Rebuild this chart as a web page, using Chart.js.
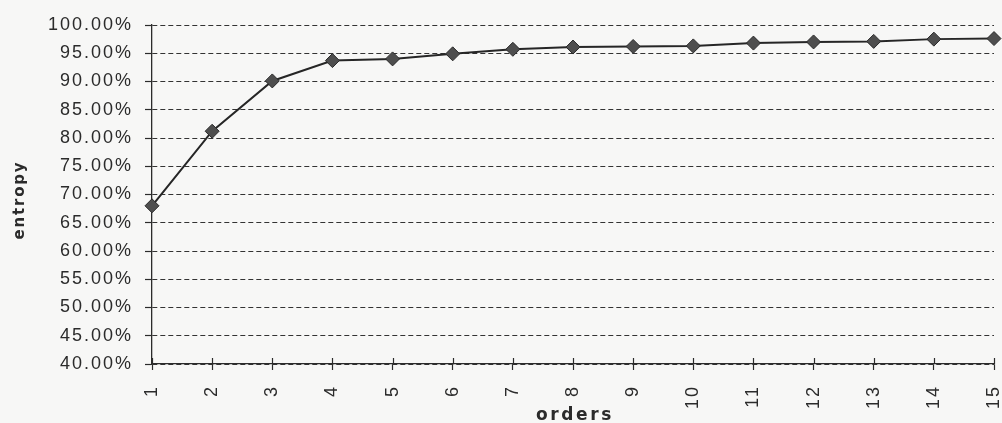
<!DOCTYPE html>
<html>
<head>
<meta charset="utf-8">
<title>Entropy by order</title>
<script src="https://cdn.jsdelivr.net/npm/chart.js@4/dist/chart.umd.min.js"></script>
<style>
  html, body { margin: 0; padding: 0; background: #f7f7f6; overflow: hidden; }
  canvas { display: block; background: #f7f7f6; }
</style>
</head>
<body>
<canvas id="chart" width="1002" height="423"></canvas>
<script>
// Orders 1..15 and the entropy reached at each order (percent)
const orders = ['1', '2', '3', '4', '5', '6', '7', '8', '9', '10', '11', '12', '13', '14', '15'];
const entropy = [68.0, 81.2, 90.1, 93.7, 94.0, 94.9, 95.7, 96.1, 96.2, 96.3, 96.8, 97.0, 97.1, 97.5, 97.6];

// Y axis range and tick step (percent)
const yMin = 40;
const yMax = 100;
const yStep = 5;

const axisTitleX = 'orders';
const axisTitleY = 'entropy';

const INK = '#2b2b2b';
const TICK_FONT = { family: '"Liberation Sans", Arial, sans-serif', size: 18 };
const TITLE_FAMILY = '"DejaVu Sans", "Liberation Sans", Arial, sans-serif';

// Extra drawing: letter-spaced tick text, tick marks that cross the x axis,
// and the two bold axis titles.
const axisDecor = {
  id: 'axisDecor',
  beforeDraw(chart) {
    chart.ctx.letterSpacing = '2px';
  },
  afterDraw(chart) {
    const ctx = chart.ctx;
    const x = chart.scales.x;
    const area = chart.chartArea;
    ctx.save();
    ctx.letterSpacing = '0px';
    ctx.strokeStyle = INK;
    ctx.lineWidth = 1.2;
    ctx.beginPath();
    for (let i = 0; i < x.ticks.length; i++) {
      const px = Math.round(x.getPixelForTick(i)) + 0.5;
      ctx.moveTo(px, area.bottom);
      ctx.lineTo(px, area.bottom - 6);
    }
    ctx.stroke();

    ctx.fillStyle = INK;
    ctx.font = 'bold 17px ' + TITLE_FAMILY;
    ctx.letterSpacing = '2.6px';
    ctx.textAlign = 'center';
    ctx.textBaseline = 'alphabetic';
    ctx.fillText(axisTitleX, (area.left + area.right) / 2 + 2, 420);

    ctx.font = 'bold 15px ' + TITLE_FAMILY;
    ctx.letterSpacing = '1.8px';
    ctx.translate(24, 201);
    ctx.rotate(-Math.PI / 2);
    ctx.textAlign = 'center';
    ctx.fillText(axisTitleY, 1, 0);
    ctx.restore();
  }
};

new Chart(document.getElementById('chart'), {
  type: 'line',
  data: {
    labels: orders,
    datasets: [{
      data: entropy,
      borderColor: '#262626',
      borderWidth: 2,
      tension: 0,
      pointStyle: 'rectRot',
      pointRadius: 7,
      pointBackgroundColor: '#4e4e4e',
      pointBorderColor: '#2a2a2a',
      pointBorderWidth: 1
    }]
  },
  options: {
    responsive: false,
    animation: false,
    devicePixelRatio: 1,
    layout: { padding: { left: 0, top: 25, right: 7, bottom: 0 } },
    plugins: { legend: { display: false }, tooltip: { enabled: false } },
    scales: {
      x: {
        type: 'category',
        offset: false,
        afterFit(scale) {
          scale.height = 59;
          scale.paddingLeft = 0;
          scale.paddingRight = 0;
        },
        grid: { drawOnChartArea: false, drawTicks: true, tickLength: 6, tickColor: INK, tickWidth: 1.2 },
        border: { display: true, color: INK, width: 1.3 },
        ticks: {
          color: INK,
          font: TICK_FONT,
          minRotation: 90,
          maxRotation: 90,
          autoSkip: false,
          padding: 15
        }
      },
      y: {
        min: yMin,
        max: yMax,
        afterFit(scale) { scale.width = 152; },
        grid: {
          color: '#333333',
          lineWidth: 1,
          drawTicks: true,
          tickLength: 7,
          tickColor: INK,
          tickWidth: 1.2,
          tickBorderDash: []
        },
        border: { display: true, color: INK, width: 1.3, dash: [5, 3] },
        ticks: {
          stepSize: yStep,
          color: INK,
          font: TICK_FONT,
          padding: 12,
          callback: (v) => v.toFixed(2) + '%'
        }
      }
    }
  },
  plugins: [axisDecor]
});
</script>
</body>
</html>
